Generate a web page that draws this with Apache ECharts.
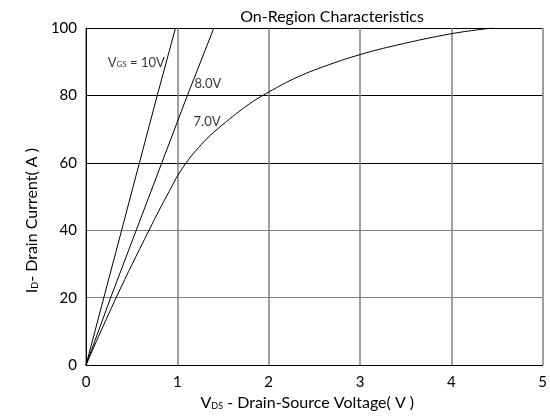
<!DOCTYPE html>
<html>
<head>
<meta charset="utf-8">
<script src="https://cdn.jsdelivr.net/npm/echarts@6/dist/echarts.min.js"></script>
<style>html,body{margin:0;padding:0;background:#fff}#c{width:550px;height:416px}</style>
</head>
<body>
<div id="c"></div>
<script>
var titleText = 'On-Region Characteristics';
var xTicks = [0, 1, 2, 3, 4, 5];
var yTicks = [0, 20, 40, 60, 80, 100];
var vgs10 = [[0,0],[0.195,20],[0.39,40],[0.585,60],[0.78,80],[0.98,100]];
var vgs8 = [[0,0],[0.27,20],[0.55,40],[0.83,60],[1.11,80],[1.40,100]];
var vgs7 = [[0,0],[0.33,20],[0.69,40],[0.91,51.5],[1.07,59],[1.3,66.5],[1.5,71.4],[1.775,77.2],[2.0,81],[2.32,85.5],[2.67,89.2],[3.0,92.1],[3.4,94.9],[4.0,98.3],[4.45,100]];
var curveLabels = [
  {value:[0.55,89.8], text:'V{s|GS} = 10V'},
  {value:[1.335,83.5], text:'8.0V'},
  {value:[1.325,72.2], text:'7.0V'}
];
var FONT = 'Lato';
var chart = echarts.init(document.getElementById('c'));
function line(d, sm){
  return {type:'line', data:d, symbol:'none', smooth:sm, lineStyle:{color:'#000', width:1}, silent:true, z:3};
}
chart.setOption({
  animation:false,
  title:{text:titleText, left:327, textAlign:'center', top:4, textStyle:{fontFamily:FONT, fontSize:16, fontWeight:'normal', color:'#000'}},
  grid:{left:86, right:2, top:28, bottom:50},
  xAxis:{type:'value', min:0, max:5, interval:1,
    name:'V{s|DS} - Drain-Source Voltage( V )', nameLocation:'middle', nameGap:26,
    nameTextStyle:{fontFamily:FONT, fontSize:16, color:'#000', padding:[0,14,0,0], rich:{s:{fontSize:9, fontFamily:FONT, verticalAlign:'bottom'}}},
    axisLine:{lineStyle:{color:'#000', width:1}}, axisTick:{show:false},
    axisLabel:{fontFamily:FONT, fontSize:15, color:'#000', margin:10, formatter:function(v){return xTicks.indexOf(v)>=0?String(v):'';}},
    splitLine:{show:true, lineStyle:{color:'#808080', width:1.5}}
  },
  yAxis:{type:'value', min:0, max:100, interval:20,
    name:'I{s|D}- Drain Current( A )', nameLocation:'middle', nameGap:34,
    nameTextStyle:{fontFamily:FONT, fontSize:16, color:'#000', padding:[0,48,0,0], rich:{s:{fontSize:9, fontFamily:FONT, verticalAlign:'bottom'}}},
    axisLine:{show:true, lineStyle:{color:'#000', width:1}}, axisTick:{show:false},
    axisLabel:{fontFamily:FONT, fontSize:15, color:'#000', margin:9, formatter:function(v){return yTicks.indexOf(v)>=0?String(v):'';}},
    splitLine:{show:true, lineStyle:{color:['#000','#808080','#808080','#000','#000','#000'], width:1.2}}
  },
  series:[
    line(vgs10, false), line(vgs8, false), line(vgs7, 0.4),
    {type:'scatter', symbolSize:0, silent:true, z:4,
     data:curveLabels.map(function(l){return {value:l.value, label:{formatter:l.text}};}),
     label:{show:true, position:'inside', color:'#000', fontFamily:FONT, fontSize:13,
       rich:{s:{fontSize:8, fontFamily:FONT, verticalAlign:'bottom', color:'#000'}}}
    }
  ]
});
</script>
</body>
</html>
